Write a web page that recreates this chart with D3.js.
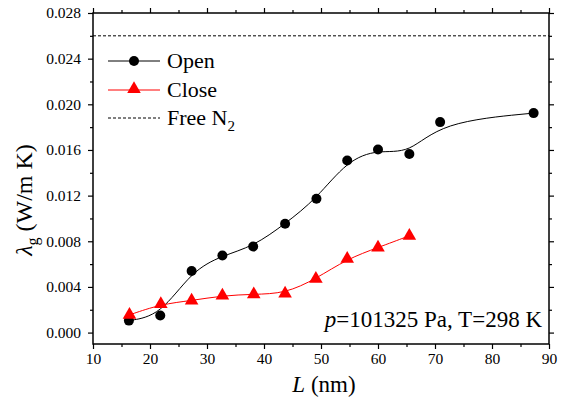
<!DOCTYPE html>
<html>
<head>
<meta charset="utf-8">
<script src="https://cdn.jsdelivr.net/npm/d3@7/dist/d3.min.js"></script>
<style>
  html, body { margin: 0; padding: 0; background: #fff; }
  svg { display: block; }
</style>
</head>
<body>
<svg id="chart" width="561" height="405"></svg>
<script>
// Pore length L (nm)
const openL  = [16.3, 21.8, 27.3, 32.7, 38.1, 43.7, 49.2, 54.6, 60.0, 65.5, 70.9, 87.3];
// Gas thermal conductivity for open pores (W/m K)
const openK  = [0.00105, 0.00149, 0.0054, 0.00675, 0.00754, 0.00953, 0.01172, 0.01508, 0.01604, 0.01564, 0.01844, 0.01923];
const closeL = [16.4, 21.9, 27.3, 32.7, 38.2, 43.7, 49.1, 54.6, 60.0, 65.5];
// Gas thermal conductivity for closed pores (W/m K)
const closeK = [0.00155, 0.00249, 0.0028, 0.00324, 0.00336, 0.00342, 0.0047, 0.00646, 0.00745, 0.00848];
// Free nitrogen conductivity
const freeN2 = 0.026;

const xTicks = [10, 20, 30, 40, 50, 60, 70, 80, 90];
const yTicks = [0.000, 0.004, 0.008, 0.012, 0.016, 0.020, 0.024, 0.028];

const FONT = "Liberation Serif, DejaVu Serif, serif";

const svg = d3.select("#chart");
const plotL = 93, plotR = 549, plotT = 13, plotB = 344;

const x = d3.scaleLinear().domain([10, 90]).range([plotL, plotR]);
const y = d3.scaleLinear().domain([-0.001, 0.028]).range([plotB, plotT]);

const xMinor = d3.range(15, 90, 10);
const yMinor = d3.range(0.002, 0.028, 0.004);

// Frame
svg.append("rect")
  .attr("x", plotL).attr("y", plotT)
  .attr("width", plotR - plotL).attr("height", plotB - plotT)
  .attr("fill", "none").attr("stroke", "#000").attr("stroke-width", 1.5);

function styleAxis(g) {
  g.attr("font-family", FONT).attr("font-size", 15);
  g.select(".domain").remove();
  g.selectAll(".tick line").attr("stroke", "#000").attr("stroke-width", 1.2);
  g.selectAll(".tick text").attr("font-family", FONT).attr("font-size", 15.5).attr("fill", "#000");
}

// Bottom axis
svg.append("g").attr("transform", `translate(0,${plotB})`)
  .call(d3.axisBottom(x).tickValues(xTicks).tickSize(5).tickPadding(4).tickFormat(d3.format("d")))
  .call(styleAxis);
svg.append("g").attr("transform", `translate(0,${plotB})`)
  .call(d3.axisBottom(x).tickValues(xMinor).tickSize(3).tickFormat(""))
  .call(styleAxis);
// Top axis
svg.append("g").attr("transform", `translate(0,${plotT})`)
  .call(d3.axisTop(x).tickValues(xTicks).tickSize(5).tickFormat(""))
  .call(styleAxis);
svg.append("g").attr("transform", `translate(0,${plotT})`)
  .call(d3.axisTop(x).tickValues(xMinor).tickSize(3).tickFormat(""))
  .call(styleAxis);
// Left axis
svg.append("g").attr("transform", `translate(${plotL},0)`)
  .call(d3.axisLeft(y).tickValues(yTicks).tickSize(5).tickPadding(7).tickFormat(d3.format(".3f")))
  .call(styleAxis);
svg.append("g").attr("transform", `translate(${plotL},0)`)
  .call(d3.axisLeft(y).tickValues(yMinor).tickSize(3).tickFormat(""))
  .call(styleAxis);
// Right axis
svg.append("g").attr("transform", `translate(${plotR},0)`)
  .call(d3.axisRight(y).tickValues(yTicks).tickSize(5).tickFormat(""))
  .call(styleAxis);
svg.append("g").attr("transform", `translate(${plotR},0)`)
  .call(d3.axisRight(y).tickValues(yMinor).tickSize(3).tickFormat(""))
  .call(styleAxis);

// Free N2 reference line
svg.append("line")
  .attr("x1", plotL).attr("x2", plotR)
  .attr("y1", y(freeN2)).attr("y2", y(freeN2))
  .attr("stroke", "#000").attr("stroke-width", 1).attr("stroke-dasharray", "3,2");

const openPts = openL.map((v, i) => [v, openK[i]]);
const closePts = closeL.map((v, i) => [v, closeK[i]]);

const smooth = d3.line().x(d => x(d[0])).y(d => y(d[1])).curve(d3.curveBasis);

svg.append("path").datum(openPts)
  .attr("d", smooth).attr("fill", "none").attr("stroke", "#000").attr("stroke-width", 1);
svg.append("path").datum(closePts)
  .attr("d", smooth).attr("fill", "none").attr("stroke", "#ff0000").attr("stroke-width", 1);

const tri = d3.symbol().type(d3.symbolTriangle).size(80);

svg.append("g").selectAll("circle").data(openPts).join("circle")
  .attr("cx", d => x(d[0])).attr("cy", d => y(d[1])).attr("r", 5).attr("fill", "#000");
svg.append("g").selectAll("path").data(closePts).join("path")
  .attr("d", tri).attr("transform", d => `translate(${x(d[0])},${y(d[1])})`).attr("fill", "#ff0000");

function label(parent, size) {
  return parent.append("text").attr("font-family", FONT).attr("font-size", size || 22).attr("fill", "#000");
}

// Legend
const lg = svg.append("g");
const lx0 = 108, lx1 = 160, tx = 167;
lg.append("line").attr("x1", lx0).attr("x2", lx1).attr("y1", 61).attr("y2", 61).attr("stroke", "#000").attr("stroke-width", 1);
lg.append("circle").attr("cx", (lx0 + lx1) / 2).attr("cy", 61).attr("r", 5).attr("fill", "#000");
label(lg).attr("x", tx).attr("y", 68).text("Open");
lg.append("line").attr("x1", lx0).attr("x2", lx1).attr("y1", 90).attr("y2", 90).attr("stroke", "#ff0000").attr("stroke-width", 1);
lg.append("path").attr("d", tri).attr("transform", `translate(${(lx0 + lx1) / 2},89)`).attr("fill", "#ff0000");
label(lg).attr("x", tx).attr("y", 97).text("Close");
lg.append("line").attr("x1", lx0).attr("x2", lx1).attr("y1", 118).attr("y2", 118).attr("stroke", "#000").attr("stroke-width", 1).attr("stroke-dasharray", "3,2");
const fn = label(lg).attr("x", tx).attr("y", 125);
fn.append("tspan").text("Free N");
fn.append("tspan").attr("dy", 6).attr("font-size", 15).text("2");

// Condition annotation
const ann = label(svg, 23).attr("x", 542).attr("y", 327).attr("text-anchor", "end");
ann.append("tspan").attr("font-style", "italic").text("p");
ann.append("tspan").text("=101325 Pa, T=298 K");

// Axis titles
const xt = label(svg, 23).attr("x", 324).attr("y", 392).attr("text-anchor", "middle");
xt.append("tspan").attr("font-style", "italic").text("L");
xt.append("tspan").text(" (nm)");

const yt = label(svg, 24).attr("transform", "translate(32,200) rotate(-90)").attr("text-anchor", "middle");
yt.append("tspan").attr("font-style", "italic").text("λ");
yt.append("tspan").attr("dy", 6).attr("font-size", 16).text("g");
yt.append("tspan").attr("dy", -6).text(" (W/m K)");
</script>
</body>
</html>
